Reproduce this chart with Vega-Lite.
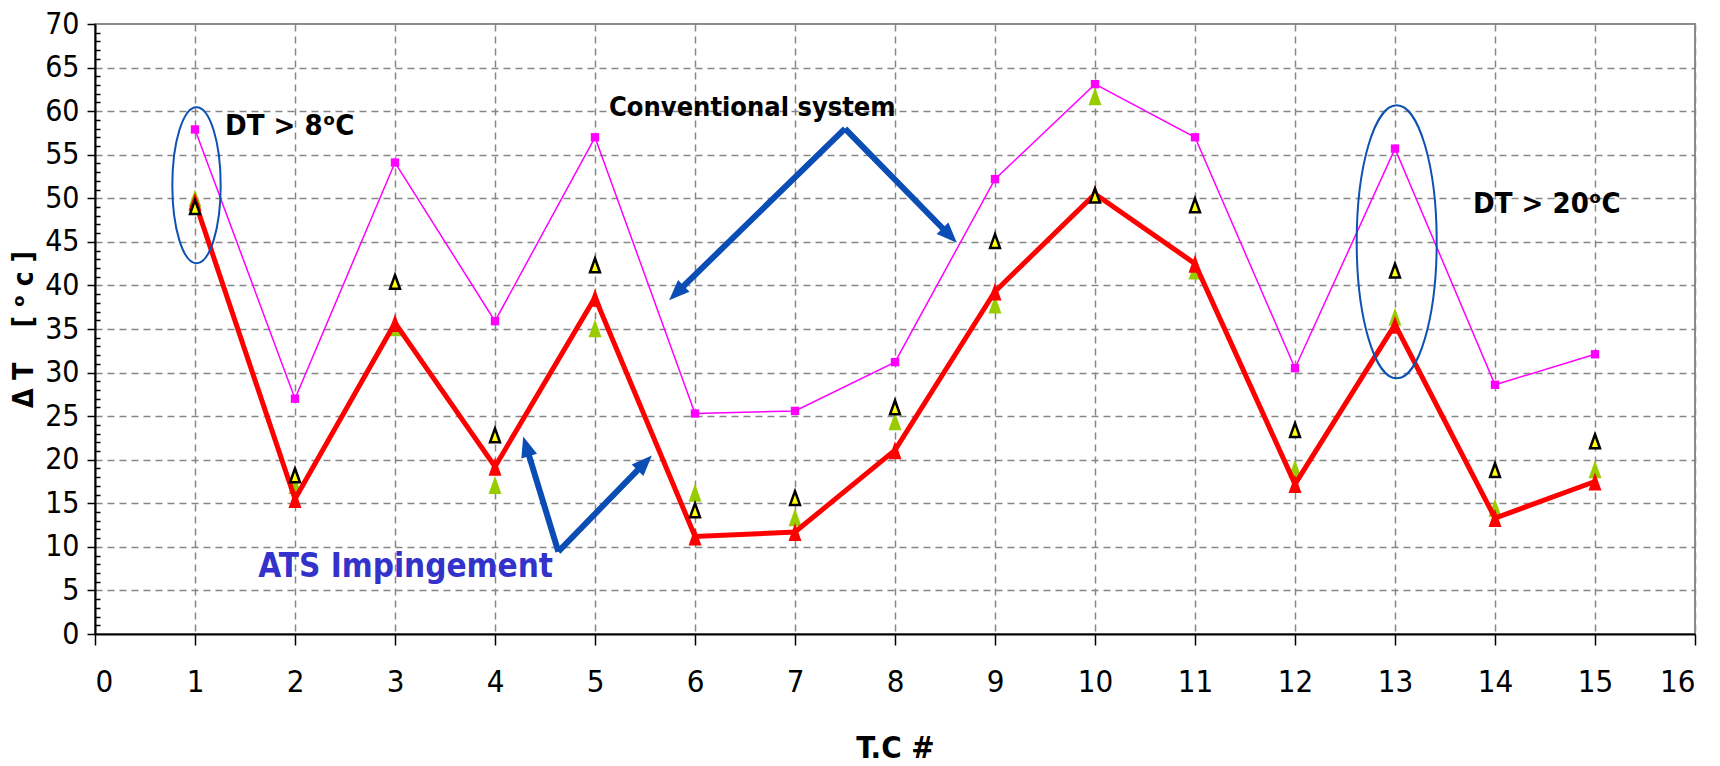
{
  "$schema": "https://vega.github.io/schema/vega-lite/v6.json",
  "width": 1600,
  "height": 610,
  "autosize": {"type": "none"},
  "padding": {"left": 95, "top": 24, "right": 25, "bottom": 132},
  "background": "white",
  "config": {
    "view": {"stroke": "#8c8c8c", "strokeWidth": 2},
    "font": "DejaVu Sans Condensed, Liberation Sans, sans-serif"
  },
  "datasets": {
    "series": [
      {"tc": 1, "conventional": 57.9, "ats": 49.6, "exp1": 49.0, "exp2": 50.0},
      {"tc": 2, "conventional": 27.0, "ats": 15.5, "exp1": 18.2, "exp2": 17.1},
      {"tc": 3, "conventional": 54.1, "ats": 35.7, "exp1": 40.4, "exp2": 35.2},
      {"tc": 4, "conventional": 35.9, "ats": 19.2, "exp1": 22.8, "exp2": 17.1},
      {"tc": 5, "conventional": 57.0, "ats": 38.6, "exp1": 42.3, "exp2": 35.1},
      {"tc": 6, "conventional": 25.3, "ats": 11.2, "exp1": 14.2, "exp2": 16.2},
      {"tc": 7, "conventional": 25.6, "ats": 11.7, "exp1": 15.6, "exp2": 13.4},
      {"tc": 8, "conventional": 31.2, "ats": 21.1, "exp1": 26.0, "exp2": 24.4},
      {"tc": 9, "conventional": 52.2, "ats": 39.3, "exp1": 45.1, "exp2": 37.8},
      {"tc": 10, "conventional": 63.1, "ats": 50.5, "exp1": 50.3, "exp2": 61.7},
      {"tc": 11, "conventional": 57.0, "ats": 42.5, "exp1": 49.2, "exp2": 41.7},
      {"tc": 12, "conventional": 30.5, "ats": 17.2, "exp1": 23.4, "exp2": 19.0},
      {"tc": 13, "conventional": 55.7, "ats": 35.5, "exp1": 41.7, "exp2": 36.4},
      {"tc": 14, "conventional": 28.6, "ats": 13.3, "exp1": 18.8, "exp2": 14.5},
      {"tc": 15, "conventional": 32.1, "ats": 17.5, "exp1": 22.1, "exp2": 18.9}
    ],
    "arrows": [
      {"id": "c1", "x": 7.5, "y": 58.0, "x2": 5.8145, "y2": 39.13},
      {"id": "c2", "x": 7.5, "y": 58.0, "x2": 8.547, "y2": 45.73},
      {"id": "a1", "x": 4.633, "y": 9.45, "x2": 4.312, "y2": 21.54},
      {"id": "a2", "x": 4.633, "y": 9.45, "x2": 5.497, "y2": 19.64}
    ],
    "labels": [
      {"kind": "dt", "x": 1.3, "y": 57.26, "text": "DT > 8ᵒC"},
      {"kind": "dt", "x": 13.78, "y": 48.31, "text": "DT > 20ᵒC"},
      {"kind": "conv", "x": 5.14, "y": 59.4, "text": "Conventional system"},
      {"kind": "blue", "x": 1.633, "y": 6.58, "text": "ATS Impingement"}
    ],
    "ellipses": [
      {"id": "e1", "x": 1.015, "y": 51.5},
      {"id": "e2", "x": 13.017, "y": 45.0}
    ]
  },
  "encoding": {
    "x": {
      "type": "quantitative",
      "scale": {"domain": [0, 16], "nice": false, "zero": false},
      "axis": {
        "title": "T.C #",
        "values": [0,1,2,3,4,5,6,7,8,9,10,11,12,13,14,15,16],
        "grid": true,
        "gridDash": [7, 5],
        "gridColor": "#868686",
        "gridWidth": 1.5,
        "domainColor": "#000000",
        "domainWidth": 2,
        "tickColor": "#000000",
        "tickSize": 11,
        "tickWidth": 1.5,
        "labelFont": "DejaVu Sans Condensed, Liberation Sans, sans-serif",
        "labelFontSize": 31,
        "labelColor": "#000000",
        "labelPadding": 22,
        "titleFont": "DejaVu Sans Condensed, Liberation Sans, sans-serif",
        "titleFontSize": 31,
        "titleFontWeight": "bold",
        "titleColor": "#000000",
        "titlePadding": 36
      }
    },
    "y": {
      "type": "quantitative",
      "scale": {"domain": [0, 70], "nice": false, "zero": false},
      "axis": {
        "title": "Δ T\u00a0\u00a0\u00a0 [ ᵒ c ]",
        "values": [0,1,2,3,4,5,6,7,8,9,10,11,12,13,14,15,16,17,18,19,20,21,22,23,24,25,26,27,28,29,30,31,32,33,34,35,36,37,38,39,40,41,42,43,44,45,46,47,48,49,50,51,52,53,54,55,56,57,58,59,60,61,62,63,64,65,66,67,68,69,70],
        "labelExpr": "datum.value % 5 === 0 ? datum.label : ''",
        "grid": true,
        "gridDash": [7, 5],
        "gridColor": "#868686",
        "gridWidth": 1.5,
        "gridOpacity": {"condition": {"test": "datum.value % 5 === 0 && datum.value > 0 && datum.value < 70", "value": 1}, "value": 0},
        "domainColor": "#000000",
        "domainWidth": 2,
        "tickColor": "#000000",
        "tickWidth": 1.5,
        "tickSize": {"condition": {"test": "datum.value % 5 === 0", "value": 8}, "value": -5},
        "labelFont": "DejaVu Sans Condensed, Liberation Sans, sans-serif",
        "labelFontSize": 30,
        "labelColor": "#000000",
        "labelPadding": 8,
        "titleFont": "DejaVu Sans Condensed, Liberation Sans, sans-serif",
        "titleFontSize": 28,
        "titleFontWeight": "bold",
        "titleColor": "#000000",
        "titlePadding": 6
      }
    }
  },
  "layer": [
    {
      "data": {"name": "series"},
      "mark": {"type": "line", "color": "#ff00ff", "strokeWidth": 1.5},
      "encoding": {"x": {"field": "tc"}, "y": {"field": "conventional"}}
    },
    {
      "data": {"name": "series"},
      "mark": {"type": "point", "shape": "square", "filled": true, "color": "#ff00ff", "size": 70, "opacity": 1},
      "encoding": {"x": {"field": "tc"}, "y": {"field": "conventional"}}
    },
    {
      "data": {"name": "series"},
      "mark": {"type": "point", "shape": "M0,-1L-0.72,1L0.72,1Z", "filled": true, "color": "#99cc00", "size": 324, "opacity": 1},
      "encoding": {"x": {"field": "tc"}, "y": {"field": "exp2"}}
    },
    {
      "data": {"name": "series"},
      "mark": {"type": "line", "color": "#ff0000", "strokeWidth": 5},
      "encoding": {"x": {"field": "tc"}, "y": {"field": "ats"}}
    },
    {
      "data": {"name": "series"},
      "mark": {"type": "point", "shape": "M0,-1L-0.72,1L0.72,1Z", "filled": true, "color": "#ff0000", "size": 324, "opacity": 1},
      "encoding": {"x": {"field": "tc"}, "y": {"field": "ats"}}
    },
    {
      "data": {"name": "series"},
      "mark": {"type": "point", "shape": "M0,-1L-0.72,1L0.72,1Z", "filled": true, "fill": "#ffff00", "stroke": "#000000", "strokeWidth": 2.5, "size": 190, "opacity": 1},
      "encoding": {"x": {"field": "tc"}, "y": {"field": "exp1"}}
    },
    {
      "data": {"name": "ellipses"},
      "transform": [{"filter": "datum.id === 'e1'"}],
      "mark": {"type": "point", "shape": "M0,-1C0.1712,-1,0.31,-0.5523,0.31,0C0.31,0.5523,0.1712,1,0,1C-0.1712,1,-0.31,0.5523,-0.31,0C-0.31,-0.5523,-0.1712,-1,0,-1Z", "filled": false, "stroke": "#0d52b3", "strokeWidth": 2, "size": 24336, "opacity": 1},
      "encoding": {"x": {"field": "x"}, "y": {"field": "y"}}
    },
    {
      "data": {"name": "ellipses"},
      "transform": [{"filter": "datum.id === 'e2'"}],
      "mark": {"type": "point", "shape": "M0,-1C0.1618,-1,0.293,-0.5523,0.293,0C0.293,0.5523,0.1618,1,0,1C-0.1618,1,-0.293,0.5523,-0.293,0C-0.293,-0.5523,-0.1618,-1,0,-1Z", "filled": false, "stroke": "#0d52b3", "strokeWidth": 2, "size": 74529, "opacity": 1},
      "encoding": {"x": {"field": "x"}, "y": {"field": "y"}}
    },
    {
      "data": {"name": "arrows"},
      "mark": {"type": "rule", "color": "#0a4db5", "strokeWidth": 6},
      "encoding": {"x": {"field": "x"}, "y": {"field": "y"}, "x2": {"field": "x2"}, "y2": {"field": "y2"}}
    },
    {
      "data": {"name": "arrows"},
      "transform": [{"filter": "datum.id === 'c1'"}],
      "mark": {"type": "point", "shape": "M0,-1L-0.8,1L0.8,1Z", "filled": true, "color": "#0a4db5", "size": 420, "angle": 225.7, "opacity": 1},
      "encoding": {"x": {"field": "x2"}, "y": {"field": "y2"}}
    },
    {
      "data": {"name": "arrows"},
      "transform": [{"filter": "datum.id === 'c2'"}],
      "mark": {"type": "point", "shape": "M0,-1L-0.8,1L0.8,1Z", "filled": true, "color": "#0a4db5", "size": 420, "angle": 135.7, "opacity": 1},
      "encoding": {"x": {"field": "x2"}, "y": {"field": "y2"}}
    },
    {
      "data": {"name": "arrows"},
      "transform": [{"filter": "datum.id === 'a1'"}],
      "mark": {"type": "point", "shape": "M0,-1L-0.8,1L0.8,1Z", "filled": true, "color": "#0a4db5", "size": 420, "angle": 343.1, "opacity": 1},
      "encoding": {"x": {"field": "x2"}, "y": {"field": "y2"}}
    },
    {
      "data": {"name": "arrows"},
      "transform": [{"filter": "datum.id === 'a2'"}],
      "mark": {"type": "point", "shape": "M0,-1L-0.8,1L0.8,1Z", "filled": true, "color": "#0a4db5", "size": 420, "angle": 44.2, "opacity": 1},
      "encoding": {"x": {"field": "x2"}, "y": {"field": "y2"}}
    },
    {
      "data": {"name": "labels"},
      "transform": [{"filter": "datum.kind === 'dt'"}],
      "mark": {"type": "text", "align": "left", "baseline": "alphabetic", "font": "DejaVu Sans Condensed, Liberation Sans, sans-serif", "fontSize": 29, "fontWeight": "bold", "color": "#000000"},
      "encoding": {"x": {"field": "x"}, "y": {"field": "y"}, "text": {"field": "text"}}
    },
    {
      "data": {"name": "labels"},
      "transform": [{"filter": "datum.kind === 'conv'"}],
      "mark": {"type": "text", "align": "left", "baseline": "alphabetic", "font": "DejaVu Sans Condensed, Liberation Sans, sans-serif", "fontSize": 27, "fontWeight": "bold", "color": "#000000"},
      "encoding": {"x": {"field": "x"}, "y": {"field": "y"}, "text": {"field": "text"}}
    },
    {
      "data": {"name": "labels"},
      "transform": [{"filter": "datum.kind === 'blue'"}],
      "mark": {"type": "text", "align": "left", "baseline": "alphabetic", "font": "DejaVu Sans Condensed, Liberation Sans, sans-serif", "fontSize": 33, "fontWeight": "bold", "color": "#3333cc"},
      "encoding": {"x": {"field": "x"}, "y": {"field": "y"}, "text": {"field": "text"}}
    }
  ]
}
